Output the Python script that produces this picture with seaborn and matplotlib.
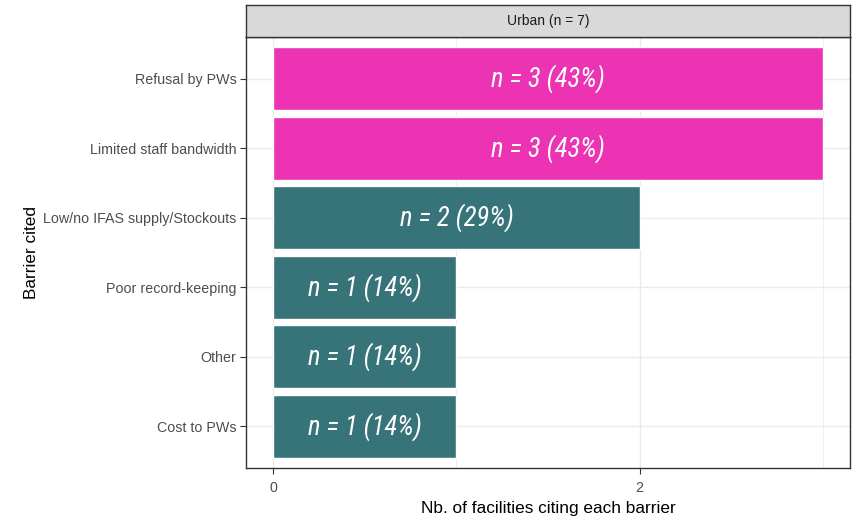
import matplotlib
matplotlib.use("Agg")
import matplotlib.pyplot as plt
from matplotlib import font_manager
import seaborn as sns
import pandas as pd

# ---- data ----
barriers = ["Refusal by PWs", "Limited staff bandwidth", "Low/no IFAS supply/Stockouts",
            "Poor record-keeping", "Other", "Cost to PWs"]
counts = [3, 3, 2, 1, 1, 1]
highlight = ["yes", "yes", "no", "no", "no", "no"]
n_total = 7
facet_label = "Urban (n = 7)"
x_ticks = [0, 2]

df = pd.DataFrame({"barrier": barriers, "count": counts, "hl": highlight})
df["label"] = [f"n = {c} ({round(100 * c / n_total)}%)" for c in counts]

sns.set_theme(style="white")
avail = {f.name for f in font_manager.fontManager.ttflist}
base_font = "Liberation Sans" if "Liberation Sans" in avail else "DejaVu Sans"
narrow = None
for cand in ["Liberation Sans Narrow", "Roboto Condensed", "Open Sans Condensed"]:
    if cand in avail:
        narrow = cand
        break
plt.rcParams["font.family"] = [base_font, "DejaVu Sans"]

fig = plt.figure(figsize=(8.57, 5.17), dpi=100)
W, H = 857, 517
px0, px1, py0, py1 = 246, 850, 37, 468
ax = fig.add_axes([px0 / W, 1 - py1 / H, (px1 - px0) / W, (py1 - py0) / H])

palette = {"yes": "#EB33B4", "no": "#377479"}
sns.barplot(data=df, y="barrier", x="count", hue="hl", palette=palette,
            order=barriers, orient="h", width=0.9, dodge=False, legend=False,
            saturation=1, ax=ax, zorder=3)

ax.set_xlim(-0.15, 3.15)
ax.set_ylim(len(barriers) - 0.4, -0.6)

# grid (theme_bw style)
for v in [0, 1, 2, 3]:
    ax.axvline(v, color="#EBEBEB", lw=1.0 if v in x_ticks else 0.6, zorder=0)
for i in range(len(barriers)):
    ax.axhline(i, color="#EBEBEB", lw=1.0, zorder=0)

ax.set_xticks(x_ticks)
ax.set_xticklabels([str(t) for t in x_ticks])
ax.tick_params(axis="both", which="major", length=4, width=0.8, color="#333333",
               labelsize=10.3, labelcolor="#4D4D4D", pad=3, bottom=True, left=True)
ax.tick_params(axis="x", pad=5)
for s in ax.spines.values():
    s.set_color("#333333")
    s.set_linewidth(1.0)
ax.set_xlabel("Nb. of facilities citing each barrier", fontsize=12.4, color="black", labelpad=5)
ax.set_ylabel("Barrier cited", fontsize=12.4, color="black", labelpad=3)

# bar labels
lab_kw = dict(color="white", style="italic", ha="center", va="center", zorder=5)
if narrow:
    lab_kw.update(family=[narrow, "DejaVu Sans"], fontsize=19.2)
else:
    lab_kw.update(family=["Roboto", "DejaVu Sans"], fontsize=16.5)
for i, (c, lab) in enumerate(zip(df["count"], df["label"])):
    ax.text(c / 2, i, lab, **lab_kw)

# facet strip
sx = fig.add_axes([px0 / W, 1 - py0 / H, (px1 - px0) / W, (py0 - 5) / H])
sx.set_facecolor("#D9D9D9")
sx.set_xticks([])
sx.set_yticks([])
for s in sx.spines.values():
    s.set_color("#333333")
    s.set_linewidth(1.0)
sx.text(0.5, 0.5, facet_label, ha="center", va="center", fontsize=10,
        color="#1A1A1A", transform=sx.transAxes)

fig.savefig("out.png", dpi=100)
